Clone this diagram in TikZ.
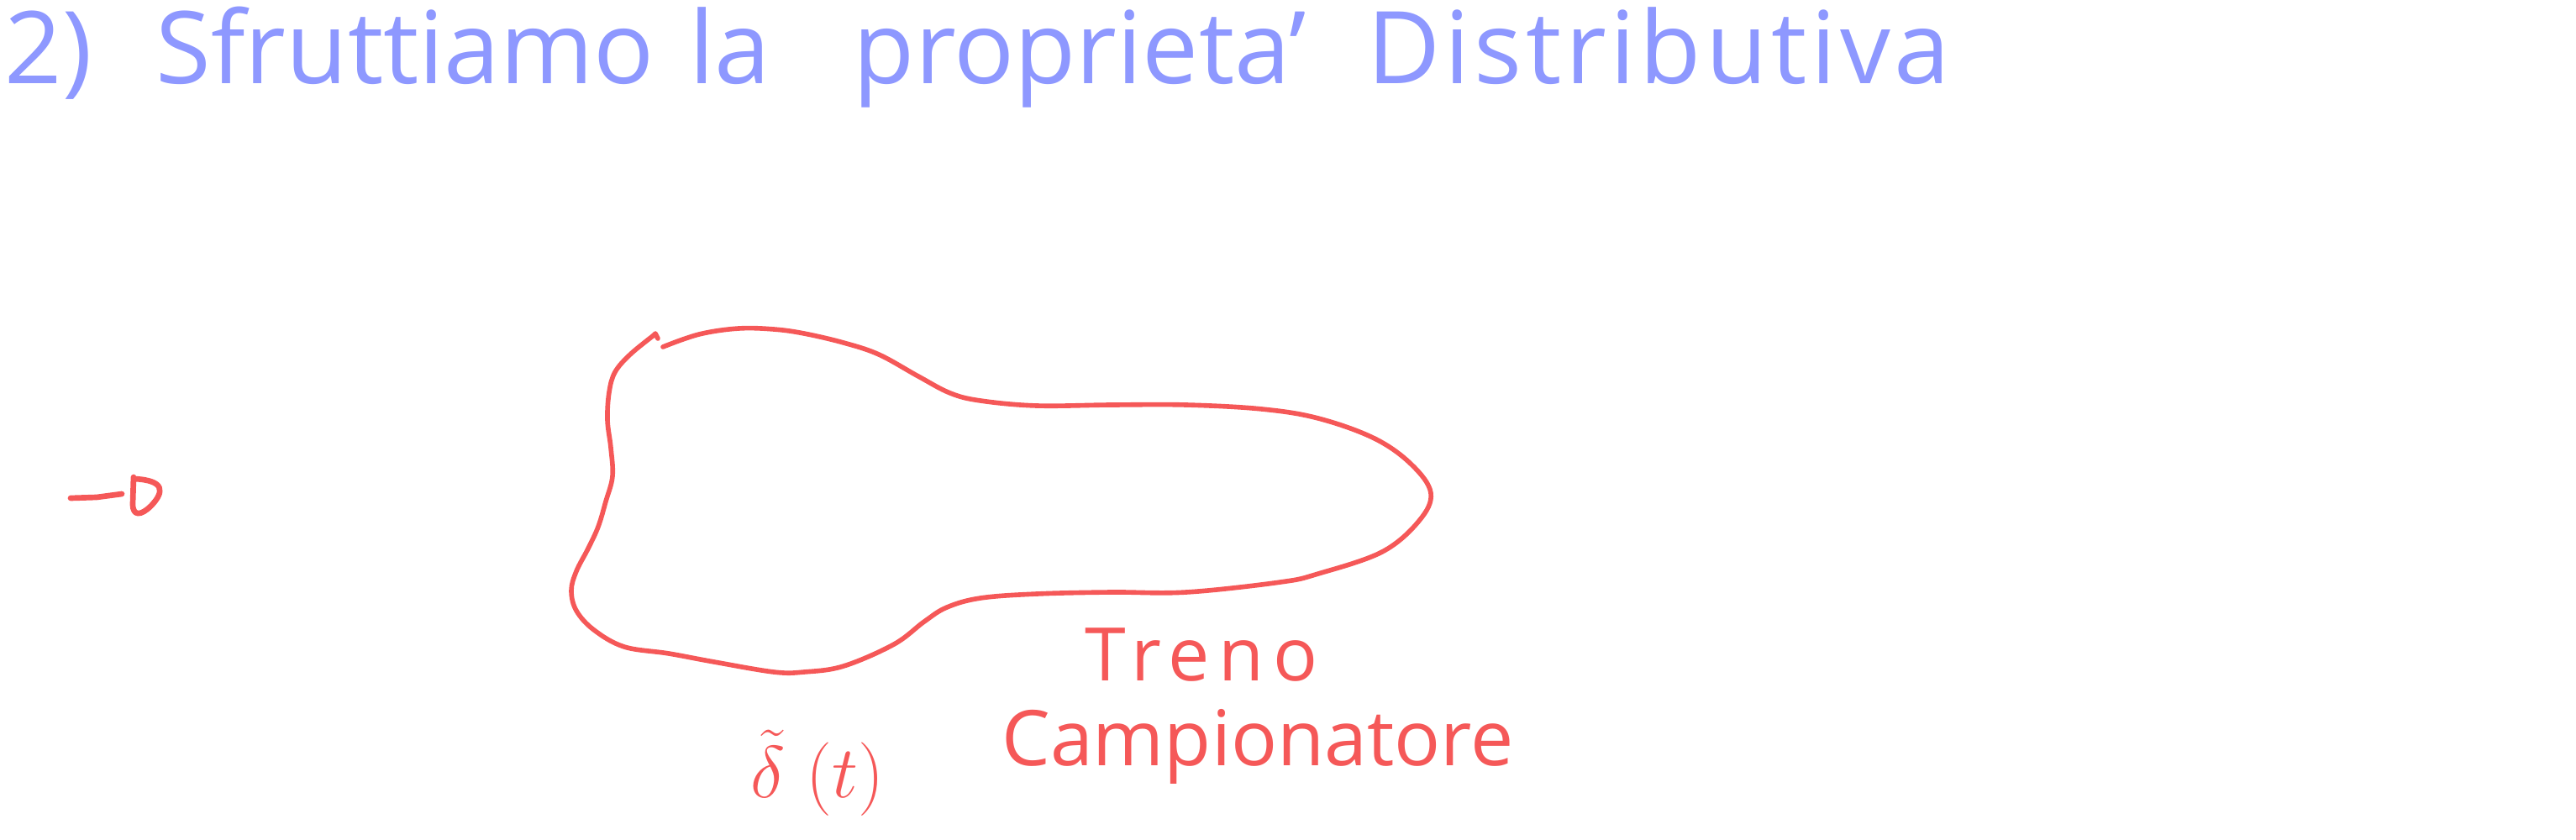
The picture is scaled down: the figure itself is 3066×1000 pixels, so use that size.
\documentclass[tikz,border=0pt]{standalone}
\usepackage{fontspec}
\setmainfont{Open Sans}
\definecolor{inkblue}{RGB}{142,152,255}
\definecolor{inkred}{RGB}{245,88,88}

\begin{document}
\begin{tikzpicture}[x=0.01cm, y=-0.01cm,
        titolo/.style={inkblue, font=\fontsize{34}{40}\selectfont, anchor=base west, inner sep=0pt},
        etichetta/.style={inkred, font=\fontsize{25}{30}\selectfont, inner sep=0pt},
        tratto/.style={inkred, line width=1.6pt, line cap=round, line join=round}]
        \useasboundingbox (0,0) rectangle (3066,1000);
        % Titolo
        \node[titolo] (num) at (5,100) {2)};
        \node[titolo] (sfrutt) at (185,100) {Sfruttiamo};
        \node[titolo] (la) at (820,100) {la};
        \node[titolo] (propr) at (1015,100) {proprieta'};
        \node[titolo, font=\fontsize{34}{40}\selectfont\addfontfeature{LetterSpace=4}] (distr) at (1627,100) {Distributiva};
        % Freccia a sinistra
        \draw[tratto, line width=1.9pt] (84,593) -- (115,592) -- (145,588);
        \draw[tratto, line width=1.9pt] (159,568) -- (158,600) .. controls (158,615) and (168,614) .. (180,602)
            .. controls (196,585) and (196,572) .. (160,570);
        % Treno campionatore (curva chiusa)
        \draw[tratto] plot[smooth, tension=0.6] coordinates {
            (789,413) (832,398) (879,391) (921,392) (957,397) (1004,408) (1046,422)
            (1093,448) (1131,468) (1167,477) (1234,483) (1323,482) (1412,482)
            (1502,487) (1569,498) (1636,522) (1680,553) (1703,587) (1689,620)
            (1645,657) (1569,683) (1524,693) (1412,705) (1323,705) (1234,707)
            (1167,712) (1127,723) (1100,740) (1064,767) (1004,793) (957,800)
            (921,800) (850,788) (796,778) (743,770) (707,750) (686,727) (680,703)
            (686,680) (700,653) (712,627) (721,597) (729,567) (727,533) (723,500)
            (725,467) (732,443) (750,422) (777,400)};
        \draw[tratto] (777,400) -- (780,397) -- (783,403);
        % Etichette
        \node[etichetta, font=\fontsize{25}{30}\selectfont\addfontfeature{LetterSpace=12}] (treno) at (1430,780) {Treno};
        \node[etichetta, font=\fontsize{26}{30}\selectfont] (campionatore) at (1497,889) {Campionatore};
        \node[etichetta, font=\fontsize{38}{44}\selectfont] (delta) at (973,920) {$\tilde{\delta}\;(t)$};
\end{tikzpicture}
\end{document}
